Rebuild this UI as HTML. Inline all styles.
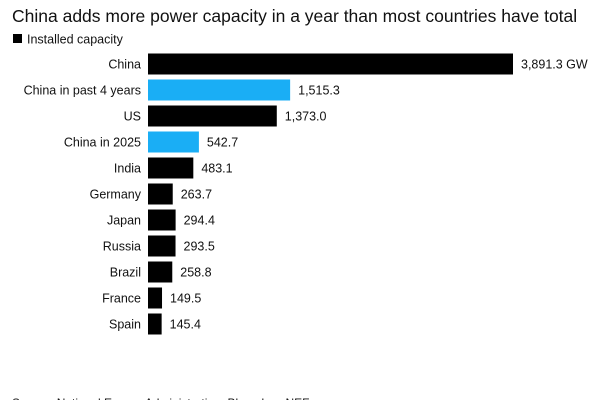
<!DOCTYPE html>
<html><head><meta charset="utf-8"><style>
body{margin:0;background:#fff;width:600px;height:400px;overflow:hidden;font-family:"Liberation Sans",sans-serif;}
svg text{font-family:"Liberation Sans",sans-serif;}
</style></head><body>
<svg width="600" height="400">
<text x="12" y="22" font-size="17.5" fill="#111">China adds more power capacity in a year than most countries have total</text>
<rect x="13" y="34" width="9" height="9" fill="#000"/>
<text x="27" y="43.5" font-size="12.5" fill="#111">Installed capacity</text>
<g id="bars"></g>
<text x="12" y="407" font-size="12" fill="#111">Source: National Energy Administration, BloombergNEF</text>
</svg>
<script>
const categories=["China","China in past 4 years","US","China in 2025","India","Germany","Japan","Russia","Brazil","France","Spain"];
const values=[3891.3,1515.3,1373.0,542.7,483.1,263.7,294.4,293.5,258.8,149.5,145.4];
const labels=["3,891.3 GW","1,515.3","1,373.0","542.7","483.1","263.7","294.4","293.5","258.8","149.5","145.4"];
const highlight=[false,true,false,true,false,false,false,false,false,false,false];
const x0=148,k=365/3891.3,y0=64,step=26,bh=21;
const xs=v=>x0+v*k, ys=i=>y0+i*step;
const g=document.getElementById('bars');
const NS="http://www.w3.org/2000/svg";
categories.forEach((c,i)=>{
  const r=document.createElementNS(NS,'rect');
  r.setAttribute('x',x0);r.setAttribute('y',ys(i)-bh/2);
  r.setAttribute('width',xs(values[i])-x0);r.setAttribute('height',bh);
  r.setAttribute('fill',highlight[i]?'#1aaef5':'#000');
  
  
  g.appendChild(r);
  const t=document.createElementNS(NS,'text');
  t.setAttribute('x',141);t.setAttribute('y',ys(i)+4.5);t.setAttribute('text-anchor','end');
  t.setAttribute('font-size','12.5');t.setAttribute('fill','#111');t.textContent=c;
  
  
  g.appendChild(t);
  const v=document.createElementNS(NS,'text');
  v.setAttribute('x',xs(values[i])+8);v.setAttribute('y',ys(i)+4.5);
  v.setAttribute('font-size','12.5');v.setAttribute('fill','#111');v.textContent=labels[i];
  
  
  g.appendChild(v);
});
</script>
</body></html>
